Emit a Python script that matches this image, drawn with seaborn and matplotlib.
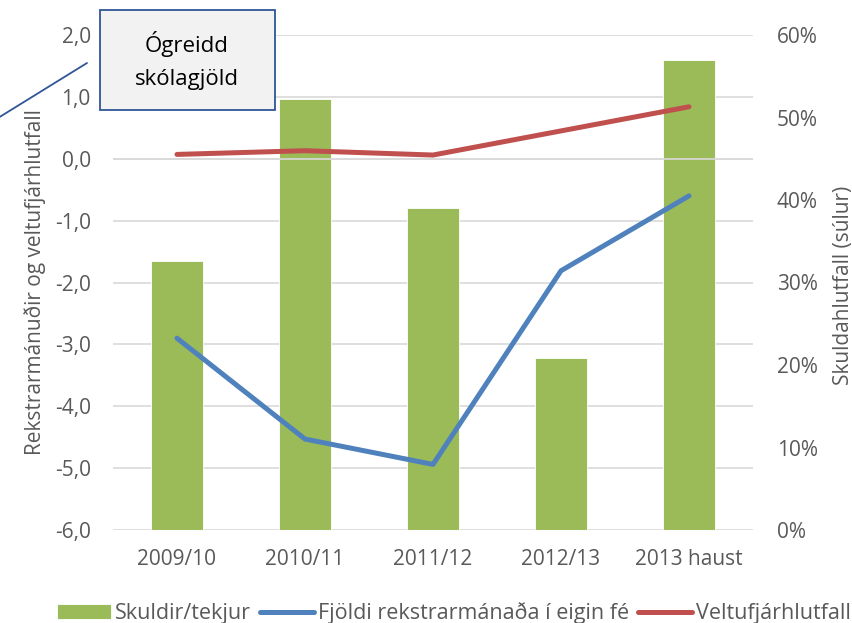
import numpy as np
import pandas as pd
import matplotlib
matplotlib.use('Agg')
import matplotlib.pyplot as plt
from matplotlib.patches import Rectangle
from matplotlib.lines import Line2D
from matplotlib.ticker import FuncFormatter, PercentFormatter
import seaborn as sns

# data
periods = ['2009/10', '2010/11', '2011/12', '2012/13', '2013 haust']
skuldir_tekjur = [0.326, 0.523, 0.390, 0.208, 0.570]       # bars, right axis
rekstrarmanudir = [-2.90, -4.53, -4.94, -1.81, -0.60]      # blue line, left axis
veltufjarhlutfall = [0.07, 0.13, 0.06, 0.45, 0.84]         # red line, left axis

left_ticks = [-6, -5, -4, -3, -2, -1, 0, 1, 2]
right_ticks = [0, 0.1, 0.2, 0.3, 0.4, 0.5, 0.6]

green = '#9BBB59'
blue = '#4F81BD'
red = '#C0504D'
txt = '#595959'
gridc = '#D9D9D9'
fs = 15

sns.set_theme(style='white')
plt.rcParams['font.family'] = ['Open Sans', 'DejaVu Sans']

df = pd.DataFrame({'period': periods, 'skuldir': skuldir_tekjur,
                   'rek': rekstrarmanudir, 'velta': veltufjarhlutfall})
df['pos'] = np.arange(len(df))

fig = plt.figure(figsize=(8.52, 6.23), dpi=100)
ax = fig.add_axes([113 / 852, 1 - 530 / 623, 640 / 852, 495 / 623])
ax2 = ax.twinx()   # bars
ax3 = ax.twinx()   # lines

# left axis: grid and tick labels
ax.set_ylim(-6, 2)
ax.set_yticks(left_ticks)
ax.yaxis.set_major_formatter(FuncFormatter(lambda v, p: f'{v:.1f}'.replace('.', ',')))
ax.grid(axis='y', color=gridc, lw=1.2)
ax.tick_params(axis='y', length=0, pad=16, labelsize=fs, labelcolor=txt)

# bars on the right axis
sns.barplot(data=df, x='pos', y='skuldir', ax=ax2, color=green, width=0.4,
            saturation=1, edgecolor='white', linewidth=0.6, label='Skuldir/tekjur')
ax2.set_ylim(0, 0.6)
ax2.set_yticks(right_ticks)
ax2.yaxis.set_major_formatter(PercentFormatter(1.0, decimals=0))
ax2.tick_params(axis='y', length=0, pad=17, labelsize=fs, labelcolor=txt)
ax2.set_ylabel('')
ax2.set_xlabel('')

# lines on top
ax3.set_ylim(-6, 2)
ax3.axhline(0, color=gridc, lw=1.2, zorder=1)
sns.lineplot(data=df, x='pos', y='rek', ax=ax3, color=blue, lw=3.6,
             solid_capstyle='round', label='Fjöldi rekstrarmánaða í eigin fé')
sns.lineplot(data=df, x='pos', y='velta', ax=ax3, color=red, lw=3.6,
             solid_capstyle='round', label='Veltufjárhlutfall')
ax3.set_yticks([])
ax3.set_ylabel('')
ax3.set_xlabel('')
ax3.get_legend().remove()

for a in (ax, ax2, ax3):
    for s in a.spines.values():
        s.set_visible(False)

ax.set_xlim(-0.5, len(periods) - 0.5)
ax.set_xticks(df['pos'])
ax.set_xticklabels(periods)
ax.tick_params(axis='x', length=0, pad=14, labelsize=fs, labelcolor=txt)
ax2.tick_params(axis='x', length=0)
ax3.tick_params(axis='x', length=0)
ax.set_xlabel('')

# axis titles
fig.text(35 / 852, 1 - 282 / 623, 'Rekstrarmánuðir og veltufjárhlutfall', rotation=90,
         ha='center', va='center', fontsize=fs, color=txt)
fig.text(843 / 852, 1 - 285 / 623, 'Skuldahlutfall (súlur)', rotation=90,
         ha='center', va='center', fontsize=fs, color=txt)

# callout box (two separate lines so they don't collide)
fig.add_artist(Rectangle((100 / 852, 1 - 110 / 623), 175 / 852, 100 / 623,
                         transform=fig.transFigure, facecolor='#F2F2F2',
                         edgecolor='#2F5597', lw=1.3))
fig.text(187 / 852, 1 - 44 / 623, 'Ógreidd', ha='center', va='center',
         fontsize=16, color='black')
fig.text(187 / 852, 1 - 79 / 623, 'skólagjöld', ha='center', va='center',
         fontsize=16, color='black')
fig.add_artist(Line2D([87 / 852, -2 / 852], [1 - 63 / 623, 1 - 118 / 623],
                      transform=fig.transFigure, color='#2F5597', lw=1.3))

# legend
handles = [ax2.patches[0], ax3.get_lines()[1], ax3.get_lines()[2]]
labels = ['Skuldir/tekjur', 'Fjöldi rekstrarmánaða í eigin fé', 'Veltufjárhlutfall']
fig.legend(handles, labels, loc='center', bbox_to_anchor=(454 / 852, 1 - 613 / 623),
           ncol=3, frameon=False, fontsize=15.5, labelcolor=txt, handlelength=2.5,
           handletextpad=0.2, columnspacing=0.4, handleheight=0.65)

fig.savefig('out.png', dpi=100)
